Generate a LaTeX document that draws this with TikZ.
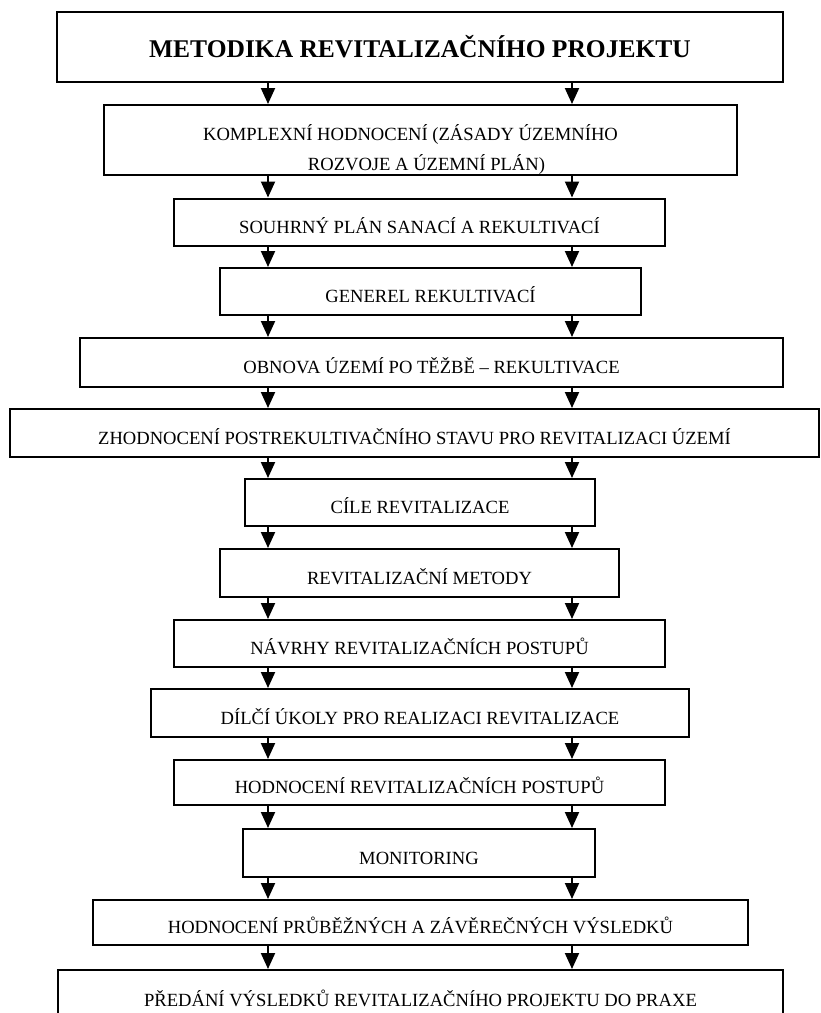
\documentclass[tikz,border=0pt]{standalone}
\usepackage{fontspec}
\setmainfont{Liberation Serif}
\usetikzlibrary{arrows.meta}

\begin{document}
\begin{tikzpicture}[x=1pt, y=-1pt,
    krok/.style={draw, line width=2pt, inner sep=0pt, minimum height=47pt,
        text height=22pt, text depth=0pt, font=\fontsize{18.6}{30}\selectfont},
    sipka/.style={line width=2pt, -{Triangle[width=14pt, length=16pt]}}]
    \useasboundingbox (0,0) rectangle (821,1013);
    \coordinate (levy) at (268,0);
    \coordinate (pravy) at (572,0);
    \node[krok, line width=2.5pt, minimum width=726pt, minimum height=70pt,
        text height=20pt, font=\bfseries\fontsize{25.5}{30}\selectfont]
        (b1) at (420,47) {METODIKA REVITALIZAČNÍHO PROJEKTU};
    \node[krok, minimum width=633pt, minimum height=70pt, align=center,
        text height=60pt, text depth=0pt]
        (b2) at (420.5,140) {KOMPLEXNÍ HODNOCENÍ (ZÁSADY ÚZEMNÍHO\hspace*{20pt}\\
                             \hspace*{12pt}ROZVOJE A ÚZEMNÍ PLÁN)};
    \node[krok, minimum width=491pt] (b3) at (419.5,222) {SOUHRNÝ PLÁN SANACÍ A REKULTIVACÍ};
    \node[krok, minimum width=421pt] (b4) at (430.5,291.5) {GENEREL REKULTIVACÍ};
    \node[krok, minimum width=703pt, minimum height=49pt] (b5) at (431.5,362.5) {OBNOVA ÚZEMÍ PO TĚŽBĚ – REKULTIVACE};
    \node[krok, minimum width=809pt, minimum height=48pt] (b6) at (414.5,433)
        {ZHODNOCENÍ POSTREKULTIVAČNÍHO STAVU PRO REVITALIZACI ÚZEMÍ};
    \node[krok, minimum width=350pt] (b7) at (420,502.5) {CÍLE REVITALIZACE};
    \node[krok, minimum width=399pt, minimum height=48pt] (b8) at (419.5,573) {REVITALIZAČNÍ METODY};
    \node[krok, minimum width=491pt] (b9) at (419.5,643.5) {NÁVRHY REVITALIZAČNÍCH POSTUPŮ};
    \node[krok, minimum width=538pt, minimum height=48pt] (b10) at (420,713) {DÍLČÍ ÚKOLY PRO REALIZACI REVITALIZACE};
    \node[krok, minimum width=491pt, minimum height=45pt] (b11) at (419.5,782.5) {HODNOCENÍ REVITALIZAČNÍCH POSTUPŮ};
    \node[krok, minimum width=352pt, minimum height=48pt] (b12) at (419,853) {MONITORING};
    \node[krok, minimum width=655pt, minimum height=45pt] (b13) at (420.5,922.5)
        {HODNOCENÍ PRŮBĚŽNÝCH A ZÁVĚREČNÝCH VÝSLEDKŮ};
    \node[krok, minimum width=725pt, minimum height=50pt] (b14) at (420.5,995)
        {PŘEDÁNÍ VÝSLEDKŮ REVITALIZAČNÍHO PROJEKTU DO PRAXE};
    % sipky mezi kroky
    \foreach \a/\b in {b1/b2, b2/b3, b3/b4, b4/b5, b5/b6, b6/b7, b7/b8,
                       b8/b9, b9/b10, b10/b11, b11/b12, b12/b13, b13/b14} {
        \draw[sipka] (\a.south -| levy) -- (\b.north -| levy);
        \draw[sipka] (\a.south -| pravy) -- (\b.north -| pravy);
    }
\end{tikzpicture}
\end{document}
